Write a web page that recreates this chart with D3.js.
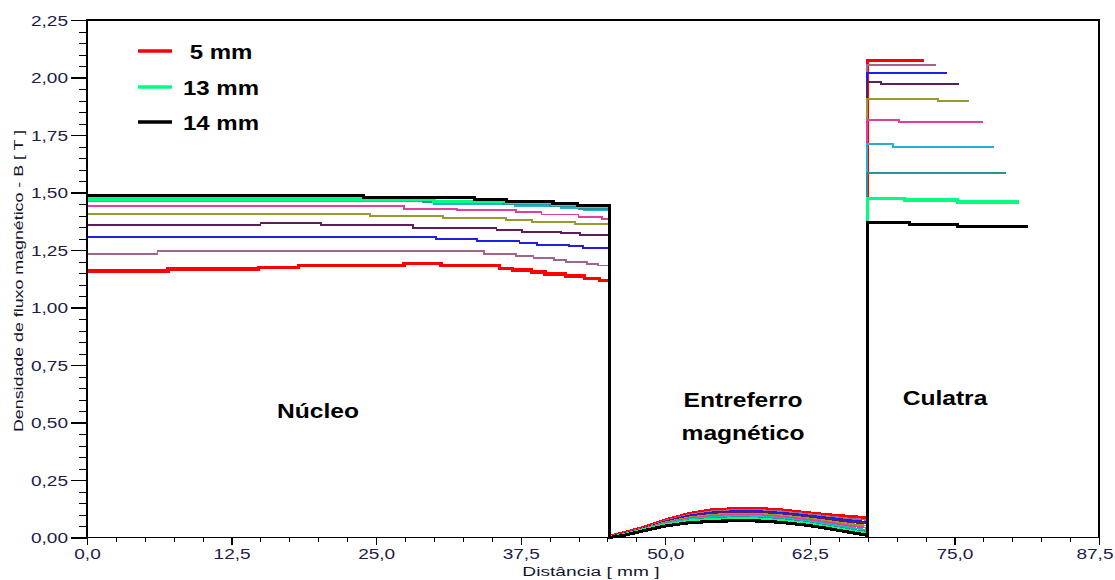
<!DOCTYPE html>
<html><head><meta charset="utf-8">
<script src="https://cdn.jsdelivr.net/npm/d3@7"></script>
<style>
body{margin:0;background:#fff;}
svg{display:block;font-family:"Liberation Sans",Arial,sans-serif;}
</style></head><body>
<svg id="chart" width="1115" height="580"></svg>
<script>
// ---------- data ----------
const seriesNames  = ["5 mm","6 mm","7 mm","8 mm","9 mm","10 mm","11 mm","12 mm","13 mm","14 mm"];
const seriesColors = ["#ff0000","#a0668c","#1e1ee6","#5c1e5c","#999933","#e0409c","#2aaed0","#2a9494","#00ff80","#000000"];
const thickSeries  = ["5 mm","13 mm","14 mm"];
const legendNames  = [" 5 mm","13 mm","14 mm"];
const legendColors = ["#ff0000","#00ff80","#000000"];
const xTicks = [0,12.5,25,37.5,50,62.5,75,87.5];
const yTicks = [0,0.25,0.5,0.75,1,1.25,1.5,1.75,2,2.25];
const regionLabels = ["Núcleo","Entreferro","magnético","Culatra"];

// Núcleo: steps [x, B]
const nucleo05 = [[0,1.159],[7.0,1.167],[14.8,1.175],[18.3,1.183],[27.4,1.192],[30.6,1.182],[35.7,1.170],[36.8,1.163],[38.4,1.154],[39.6,1.146],[41.4,1.137],[43.0,1.127],[44.3,1.118]];
const nucleo06 = [[0,1.234],[6.1,1.244],[34.3,1.233],[37.1,1.223],[38.6,1.214],[40.4,1.205],[41.4,1.198],[43.2,1.190],[44.2,1.183]];
const nucleo07 = [[0,1.308],[30.2,1.298],[33.7,1.289],[37.4,1.280],[38.9,1.273],[41.7,1.266],[42.9,1.257]];
const nucleo08 = [[0,1.357],[15.0,1.367],[20.2,1.357],[28.2,1.347],[35.4,1.337],[37.6,1.330],[41.0,1.323],[42.6,1.314]];
const nucleo09 = [[0,1.408],[24.5,1.398],[30.8,1.388],[36.2,1.379],[38.5,1.372],[42.2,1.364]];
const nucleo10 = [[0,1.440],[27.4,1.430],[32.0,1.423],[37.1,1.414],[39.3,1.404],[42.5,1.395],[44.5,1.386]];
const nucleo11 = [[0,1.462],[30.0,1.450],[37.0,1.440],[41.0,1.432],[43.0,1.423]];
const nucleo12 = [[0,1.466],[29.0,1.458],[36.0,1.450],[40.0,1.440],[42.5,1.430]];
const nucleo13 = [[0,1.472],[30.0,1.462],[36.3,1.455],[40.3,1.447],[42.4,1.438]];
const nucleo14 = [[0,1.487],[23.9,1.480],[33.5,1.470],[36.3,1.462],[40.3,1.451],[42.4,1.443]];

// Entreferro (air gap): B at gapX
const gapX  = [45.15,46.5,48,50,52,54,56,58,60,62,64,66,67.45];
const gap05 = [0.005,0.022,0.042,0.076,0.103,0.120,0.125,0.126,0.120,0.109,0.099,0.091,0.086];
const gap06 = [0.004,0.019,0.040,0.073,0.099,0.114,0.120,0.120,0.114,0.104,0.093,0.082,0.077];
const gap07 = [0.004,0.018,0.038,0.070,0.095,0.109,0.115,0.115,0.108,0.098,0.087,0.075,0.068];
const gap08 = [0.003,0.017,0.037,0.068,0.091,0.104,0.110,0.109,0.102,0.092,0.080,0.067,0.060];
const gap09 = [0.002,0.016,0.036,0.066,0.087,0.099,0.104,0.103,0.097,0.086,0.073,0.059,0.051];
const gap10 = [0.002,0.015,0.035,0.063,0.083,0.094,0.099,0.098,0.091,0.080,0.066,0.051,0.042];
const gap11 = [0.001,0.014,0.034,0.060,0.079,0.089,0.094,0.093,0.085,0.074,0.059,0.043,0.033];
const gap12 = [0.001,0.013,0.033,0.057,0.075,0.084,0.088,0.087,0.080,0.068,0.052,0.035,0.025];
const gap13 = [0.000,0.012,0.032,0.054,0.071,0.078,0.081,0.080,0.073,0.062,0.046,0.028,0.017];
const gap14 = [0.000,0.010,0.028,0.050,0.064,0.070,0.073,0.072,0.066,0.055,0.040,0.022,0.010];

// Culatra (yoke): steps [x, B], last entry = end of line
const culatra05 = [[67.45,2.073],[72.4,2.073]];
const culatra06 = [[67.45,2.054],[73.4,2.054]];
const culatra07 = [[67.45,2.020],[74.4,2.020]];
const culatra08 = [[67.45,1.980],[68.65,1.972],[75.4,1.972]];
const culatra09 = [[67.45,1.905],[73.6,1.898],[76.3,1.898]];
const culatra10 = [[67.45,1.815],[70.2,1.808],[77.5,1.808]];
const culatra11 = [[67.45,1.710],[69.7,1.699],[78.4,1.699]];
const culatra12 = [[67.45,1.586],[79.5,1.586]];
const culatra13 = [[67.45,1.475],[70.7,1.467],[75.3,1.459],[80.6,1.459]];
const culatra14 = [[67.45,1.369],[71.1,1.362],[75.3,1.353],[81.4,1.353]];

const nucleos  = [nucleo05,nucleo06,nucleo07,nucleo08,nucleo09,nucleo10,nucleo11,nucleo12,nucleo13,nucleo14];
const gaps     = [gap05,gap06,gap07,gap08,gap09,gap10,gap11,gap12,gap13,gap14];
const culatras = [culatra05,culatra06,culatra07,culatra08,culatra09,culatra10,culatra11,culatra12,culatra13,culatra14];

// ---------- layout ----------
const svg = d3.select("#chart");
const x = d3.scaleLinear().domain([0, 87.5]).range([87, 1099]);
const y = d3.scaleLinear().domain([0, 2.25]).range([537.5, 20]);
const tickColor = "#1c1c48";
const sxReg = 1.36, sxBold = 1.23;
const fmtX = d => d.toFixed(1).replace(".", ",");
const fmtY = d => d.toFixed(2).replace(".", ",");

// series paths
function buildPoints(nuc, gap, cul) {
  const pts = [];
  nuc.forEach((p, i) => {
    const nx = i + 1 < nuc.length ? nuc[i + 1][0] : gapX[0];
    pts.push([p[0], p[1]], [nx, p[1]]);
  });
  gap.forEach((v, j) => pts.push([gapX[j], v]));
  for (let i = 0; i < cul.length - 1; i++) {
    pts.push([cul[i][0], cul[i][1]], [cul[i + 1][0], cul[i][1]]);
  }
  return pts;
}
const line = d3.line().x(d => x(d[0])).y(d => y(d[1]));
const gLines = svg.append("g");
seriesNames.forEach((name, i) => {
  const thick = thickSeries.includes(name);
  gLines.append("path")
    .attr("d", line(buildPoints(nucleos[i], gaps[i], culatras[i])))
    .attr("fill", "none")
    .attr("stroke", seriesColors[i])
    .attr("stroke-width", thick ? 3.2 : 1.8)
    .attr("stroke-linejoin", "miter")
    .attr("shape-rendering", "crispEdges");
});

// frame
svg.append("rect")
  .attr("x", x(0)).attr("y", y(2.25))
  .attr("width", x(87.5) - x(0)).attr("height", y(0) - y(2.25))
  .attr("fill", "none").attr("stroke", "#000").attr("stroke-width", 1.5)
  .attr("shape-rendering", "crispEdges");

// y axis minor + major
const yMinor = d3.range(0, 2.2501, 0.05);
svg.append("g").attr("transform", `translate(${x(0)},0)`)
  .call(d3.axisLeft(y).tickValues(yMinor).tickSize(8).tickFormat(""))
  .call(g => g.select(".domain").remove())
  .call(g => g.selectAll("line").attr("stroke", "#000").attr("shape-rendering", "crispEdges"));
svg.append("g").attr("transform", `translate(${x(0)},0)`)
  .call(d3.axisLeft(y).tickValues(yTicks).tickSize(16).tickFormat(fmtY))
  .call(g => g.select(".domain").remove())
  .call(g => g.selectAll("line").attr("stroke", "#000").attr("stroke-width", 1.2).attr("shape-rendering", "crispEdges"))
  .call(g => g.selectAll("text")
    .attr("x", 0).attr("dy", "0.36em")
    .attr("transform", `translate(-19,0) scale(${sxReg},1)`)
    .attr("fill", tickColor).style("font-size", "14px"));

// x axis minor + major
const xMinor = d3.range(0, 87.501, 2.5);
svg.append("g").attr("transform", `translate(0,${y(0)})`)
  .call(d3.axisBottom(x).tickValues(xMinor).tickSize(4).tickFormat(""))
  .call(g => g.select(".domain").remove())
  .call(g => g.selectAll("line").attr("stroke", "#000").attr("shape-rendering", "crispEdges"));
const xLast = xTicks[xTicks.length - 1];
svg.append("g").attr("transform", `translate(0,${y(0)})`)
  .call(d3.axisBottom(x).tickValues(xTicks).tickSize(7).tickFormat(fmtX))
  .call(g => g.select(".domain").remove())
  .call(g => g.selectAll("line").attr("stroke", "#000").attr("stroke-width", 1.2).attr("shape-rendering", "crispEdges"))
  .call(g => g.selectAll("text")
    .attr("y", 0).attr("dy", 0)
    // last label kept inside the picture (right-aligned just past the tick, as in the reference)
    .attr("text-anchor", d => d === xLast ? "end" : "middle")
    .attr("transform", d => `translate(${d === xLast ? 14 : 0},21.5) scale(${sxReg},1)`)
    .attr("fill", tickColor).style("font-size", "14px"));

// axis titles
function stretchedText(parent, txt, tx, ty, sx, opts) {
  return parent.append("text")
    .attr("transform", `translate(${tx},${ty})${opts.rotate ? " rotate(" + opts.rotate + ")" : ""} scale(${sx},1)`)
    .attr("text-anchor", opts.anchor || "middle")
    .style("font-size", opts.size + "px")
    .style("font-weight", opts.weight || "normal")
    .style("white-space", "pre")
    .attr("fill", opts.fill || "#000")
    .text(txt);
}
stretchedText(svg, "Distância [ mm ]", 591, 576, 1.42, {size: 13.5, fill: "#141430"});
stretchedText(svg, "Densidade de fluxo magnético - B [ T ]", 23, 281, 1.37, {size: 13, rotate: -90, fill: "#141430"});

// region labels
stretchedText(svg, regionLabels[0], 318, 418, sxBold, {size: 20, weight: "bold"});
stretchedText(svg, regionLabels[1], 743, 407, sxBold, {size: 20, weight: "bold"});
stretchedText(svg, regionLabels[2], 743, 440, sxBold, {size: 20, weight: "bold"});
stretchedText(svg, regionLabels[3], 945, 405, sxBold, {size: 20, weight: "bold"});

// legend
const legY = [51, 87, 122];
legendNames.forEach((n, i) => {
  svg.append("line")
    .attr("x1", 138).attr("x2", 172).attr("y1", legY[i]).attr("y2", legY[i])
    .attr("stroke", legendColors[i]).attr("stroke-width", 3.5);
  stretchedText(svg, n, 183, legY[i] + 8, 1.2, {size: 20, weight: "bold", anchor: "start"});
});
</script>
</body></html>
